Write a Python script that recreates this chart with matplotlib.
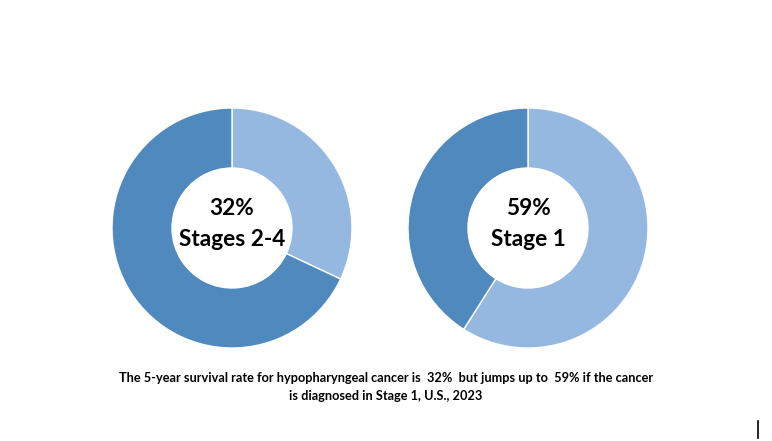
import matplotlib.pyplot as plt
from matplotlib.lines import Line2D

# Данные
rates = [32, 59]
labels = ['Stages 2-4', 'Stage 1']
caption = ('The 5-year survival rate for hypopharyngeal cancer is  32%  but jumps up to  59% if the cancer\n'
           'is diagnosed in Stage 1, U.S., 2023')

col_light = '#95B8E0'
col_dark = '#4F89BD'

W, H = 772, 441
fig = plt.figure(figsize=(W / 100, H / 100), dpi=100)
fig.patch.set_facecolor('white')

# центры колец в пикселях
centers = [(232, 228), (528, 228)]
R = 120

for (cx, cy), rate, lab in zip(centers, rates, labels):
    ax = fig.add_axes([(cx - R) / W, (H - cy - R) / H, 2 * R / W, 2 * R / H])
    ax.pie([rate, 100 - rate], colors=[col_light, col_dark], startangle=90,
           counterclock=False, radius=1,
           wedgeprops=dict(width=0.5, edgecolor='white', linewidth=1))
    ax.set_xlim(-1, 1)
    ax.set_ylim(-1, 1)
    ax.axis('off')
    ax.text(0, 0.16, str(rate) + '%', ha='center', va='center', fontsize=16.3,
            fontweight='bold', family='Lato')
    ax.text(0, -0.1, lab, ha='center', va='center', fontsize=16.3,
            fontweight='bold', family='Lato')

fig.text(386 / W, 1 - 387 / H, caption, ha='center', va='center', fontsize=9.2,
         fontweight='bold', family='Lato', linespacing=1.6)

# маленькая вертикальная черта справа внизу
fig.add_artist(Line2D([758 / W, 758 / W], [1 - 421 / H, 1 - 438 / H],
                      color='black', linewidth=1.2))

fig.savefig('out.png', dpi=100)
